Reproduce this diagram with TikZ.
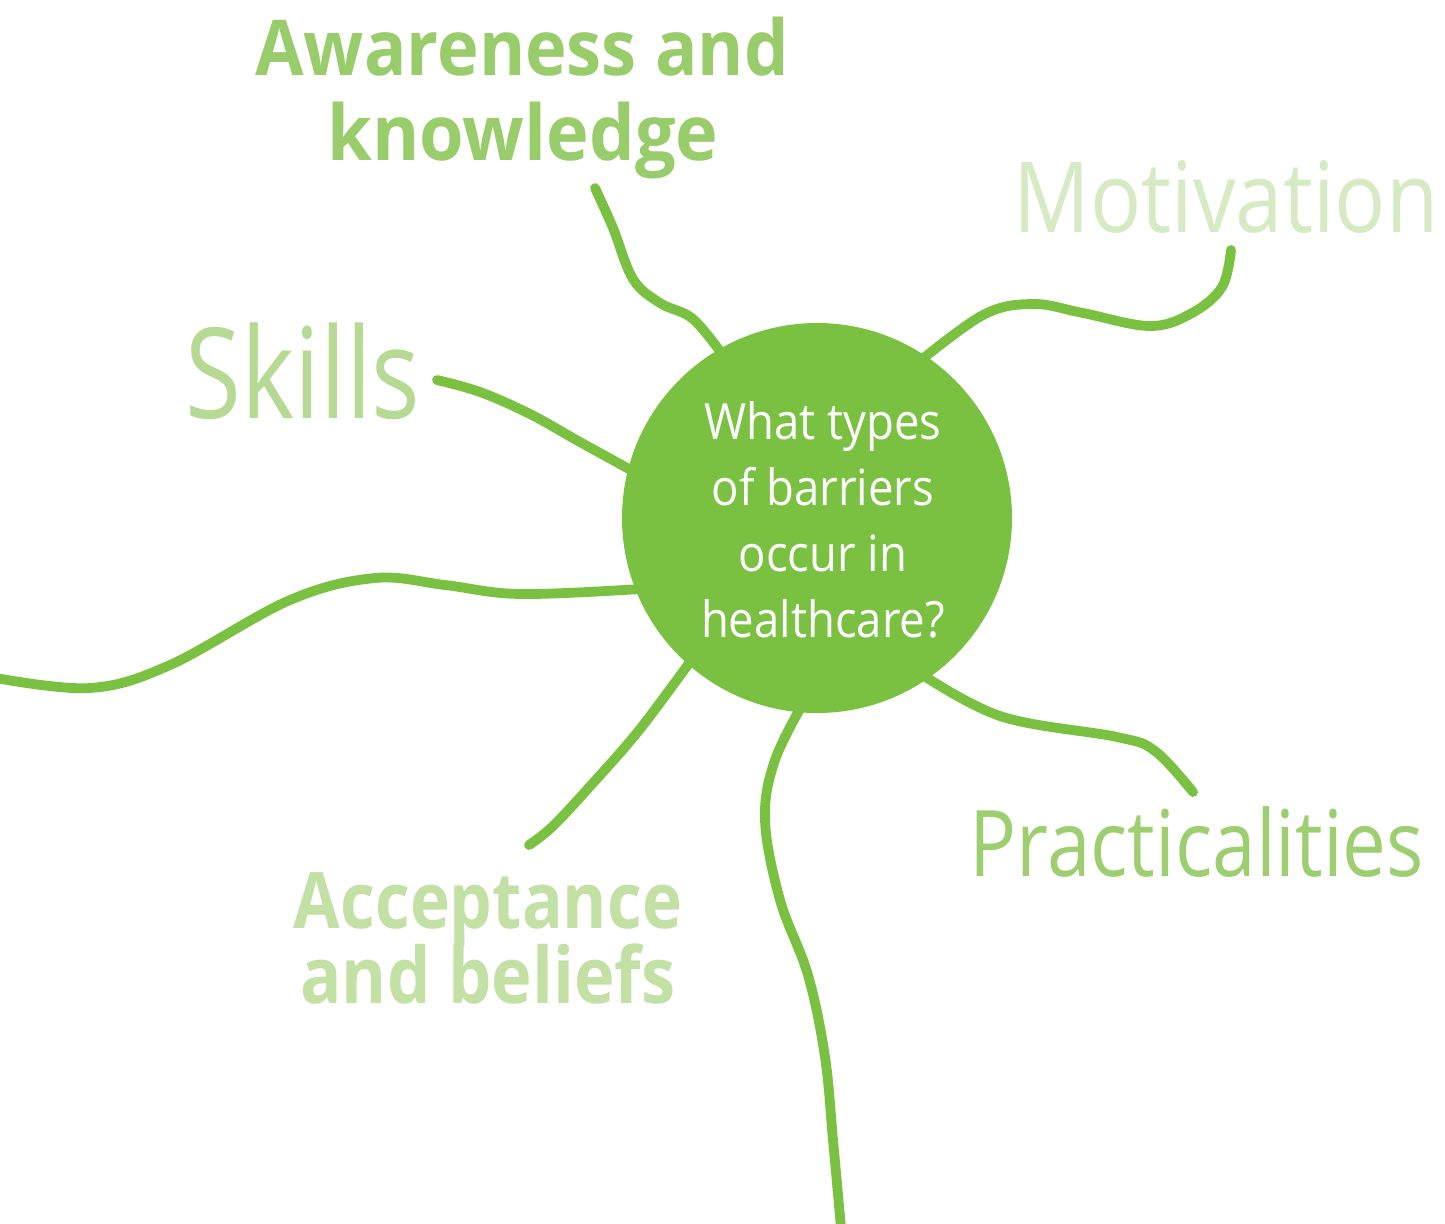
\documentclass[tikz,border=0pt]{standalone}
\usepackage{graphicx}
\usepackage{fontspec}
\setmainfont{Open Sans}
\definecolor{hub}{HTML}{7AC142}
\definecolor{awc}{HTML}{99CC6B}
\definecolor{moc}{HTML}{D6EAC3}
\definecolor{skc}{HTML}{B6DA94}
\definecolor{acc}{HTML}{C3E0A5}
\definecolor{prc}{HTML}{9DCF70}
\newcommand{\nx}[2]{\scalebox{#1}[1]{#2}}
\tikzset{
  branch/.style={draw=hub, line width=4.9pt, line cap=round, line join=round},
  lbl/.style={anchor=base, inner sep=0pt, align=center},
}
\begin{document}
\begin{tikzpicture}[x=0.5pt, y=-0.5pt]
\useasboundingbox (0,0) rectangle (1445,1223);
% branches (drawn under the hub)
\coordinate (awEnd) at (595,188);
\coordinate (moEnd) at (1231,250);
\coordinate (skEnd) at (437,380);
\coordinate (lfEnd) at (-4,678);
\coordinate (acEnd) at (529,845);
\coordinate (btEnd) at (841,1228);
\coordinate (prEnd) at (1193,792);

\draw[branch] plot[smooth, tension=0.6] coordinates {(awEnd) (613,228) (633,279) (660,303) (693,319) (725,358)};
\draw[branch] plot[smooth, tension=0.6] coordinates {(915,365) (983,315) (1033,304) (1083,313) (1150,326) (1192,313) (1222,287) (moEnd)};
\draw[branch] plot[smooth, tension=0.6] coordinates {(skEnd) (480,392) (530,414) (580,442) (640,475)};
\draw[branch] plot[smooth, tension=0.6] coordinates {(lfEnd) (90,688) (170,665) (290,600) (375,578) (445,585) (520,594) (640,589)};
\draw[branch] plot[smooth, tension=0.6] coordinates {(695,655) (640,729) (593,783) (553,826) (acEnd)};
\draw[branch] plot[smooth, tension=0.6] coordinates {(805,700) (775,760) (765,820) (780,900) (808,975) (825,1057) (833,1140) (btEnd)};
\draw[branch] plot[smooth, tension=0.6] coordinates {(915,670) (1000,716) (1117,737) (1155,751) (prEnd)};

% hub
\node[circle, fill=hub, minimum size=195pt, inner sep=0pt] (hub) at (817,518) {};
\node[text=white, align=center, inner sep=0pt, font=\fontsize{25}{33}\selectfont]
  (q) at (823,520)
  {\nx{0.91}{What types}\\\nx{0.91}{of barriers}\\\nx{0.91}{occur in}\\\nx{0.91}{healthcare?}};

% labels
\node[lbl, text=awc, font=\fontsize{38.5}{42.5}\selectfont\bfseries] (aw1) at (522,75) {\nx{0.915}{Awareness and}};
\node[lbl, text=awc, font=\fontsize{38.5}{42.5}\selectfont\bfseries] (aw2) at (523,160) {\nx{0.937}{knowledge}};
\node[lbl, text=moc, font=\fontsize{49}{55}\selectfont] (mo) at (1226,232) {\nx{0.867}{Motivation}};
\node[lbl, text=skc, font=\fontsize{63}{70}\selectfont] (sk) at (303,418) {\nx{0.807}{Skills}};
\node[lbl, text=prc, font=\fontsize{46}{52}\selectfont] (pr) at (1197,876) {\nx{0.85}{Practicalities}};
\node[lbl, text=acc, font=\fontsize{39}{42}\selectfont\bfseries] (ac1) at (488,928) {\nx{0.867}{Acceptance}};
\node[lbl, text=acc, font=\fontsize{39}{42}\selectfont\bfseries] (ac2) at (488,1003) {\nx{0.88}{and beliefs}};
\end{tikzpicture}
\end{document}
